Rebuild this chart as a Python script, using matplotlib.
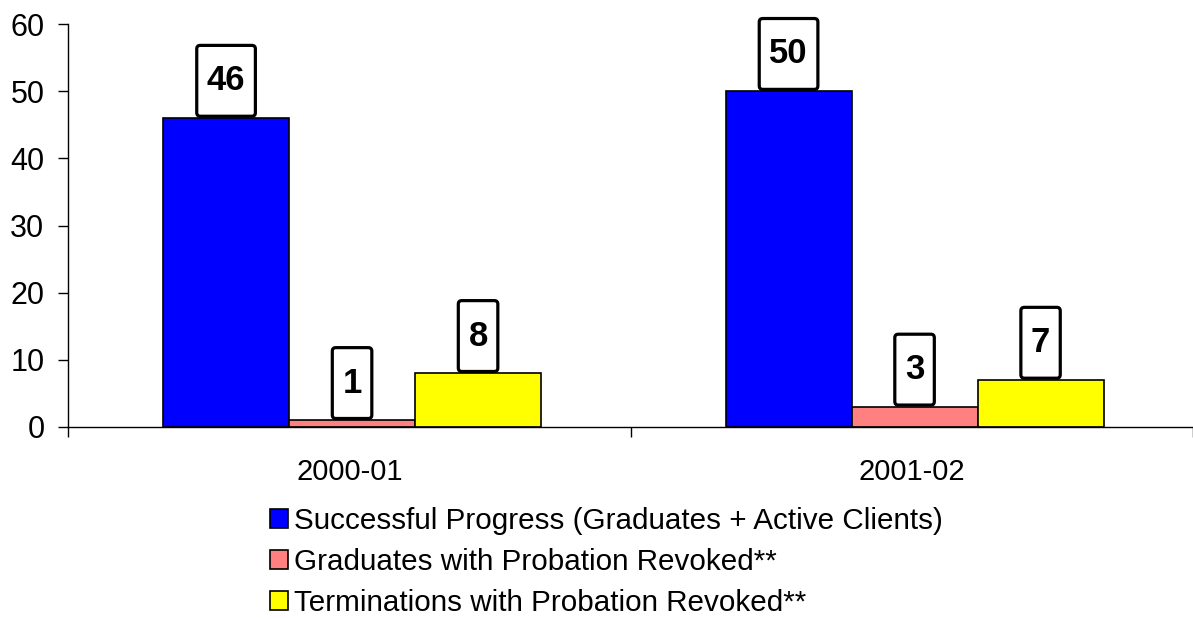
import matplotlib
matplotlib.use("Agg")
import matplotlib.pyplot as plt
import numpy as np
from matplotlib.patches import BoxStyle

plt.rcParams['font.family'] = ['Liberation Sans', 'DejaVu Sans']

categories = ["2000-01", "2001-02"]
series_names = ["Successful Progress (Graduates + Active Clients)",
                "Graduates with Probation Revoked**",
                "Terminations with Probation Revoked**"]
successful = [46, 50]
grad_revoked = [1, 3]
term_revoked = [8, 7]
series_values = [successful, grad_revoked, term_revoked]
colors = ["#0000FF", "#FF8080", "#FFFF00"]
yticks = [0, 10, 20, 30, 40, 50, 60]

fig = plt.figure(figsize=(11.93, 6.19), dpi=100)
ax = fig.add_axes([68/1193, 1-427/619, 1-68/1193, (427-24)/619])

x = np.arange(len(categories))
w = 0.224


def label_box(x0, y0, width, height, mutation_size):
    padx = 0.29 * mutation_size
    pady = 0.545 * mutation_size
    return BoxStyle.Round(pad=0, rounding_size=0.1)(
        x0 - padx, y0 - pady, width + 2 * padx, height + 2 * pady, mutation_size)


handles = []
for i, (vals, col, name) in enumerate(zip(series_values, colors, series_names)):
    bars = ax.bar(x + (i - 1) * w + 0.005, vals, w, color=col, edgecolor='black',
                  linewidth=1.2, label=name)
    handles.append(bars)
    for xi, v in zip(x + (i - 1) * w + 0.005, vals):
        ax.annotate(str(v), (xi, v), xytext=(0, 26.8), textcoords='offset points',
                    ha='center', va='center', fontsize=25, fontweight='bold',
                    bbox=dict(boxstyle=label_box, facecolor='white',
                              edgecolor='black', linewidth=2.3))

ax.set_xlim(-0.5, 1.5)
ax.set_ylim(0, 60)
ax.set_yticks(yticks)
ax.tick_params(axis='y', labelsize=22, length=7, width=1, direction='out', pad=10)
ax.set_xticks(x)
ax.set_xticklabels(categories)
ax.tick_params(axis='x', which='major', length=0, labelsize=21, pad=22)
ax.set_xticks([-0.5, 0.5, 1.5], minor=True)
ax.tick_params(axis='x', which='minor', length=7, width=1, direction='out')
for s in ['top', 'right']:
    ax.spines[s].set_visible(False)
ax.spines['left'].set_linewidth(1)
ax.spines['bottom'].set_linewidth(1)

fig.legend(handles=handles, labels=series_names, loc='upper left',
           bbox_to_anchor=(258/1193, 1-495/619), frameon=False, fontsize=21.3,
           handlelength=0.62, handleheight=0.62, handletextpad=0.2,
           labelspacing=0.44, borderaxespad=0)

fig.savefig("out.png", dpi=100)
